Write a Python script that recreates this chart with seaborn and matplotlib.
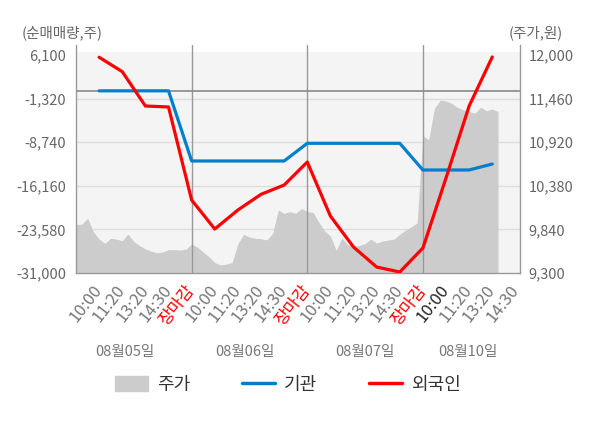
import pandas as pd
import matplotlib
matplotlib.use('Agg')
import matplotlib.pyplot as plt
import numpy as np
import seaborn as sns
from matplotlib.patches import Patch
from matplotlib.lines import Line2D

# 시간축: 하루 5칸 (10:00, 11:20, 13:20, 14:30, 장마감), 마지막 날은 14:30까지
x_labels = ['10:00', '11:20', '13:20', '14:30', '장마감'] * 3 + ['10:00', '11:20', '13:20', '14:30']
days = ['08월05일', '08월06일', '08월07일', '08월10일']

# 순매매량 (주)
x_flow = list(range(1, 19))
inst = [0, 0, 0, 0, -11940, -11940, -11940, -11940, -11940, -8930,
        -8930, -8930, -8930, -8930, -13470, -13470, -13470, -12450]
foreign = [5710, 3260, -2580, -2750, -18580, -23510, -20280, -17610, -16030, -12110,
           -21300, -26580, -29980, -30830, -26750, -14830, -2580, 5760]

# 주가 (원), 0.25칸 간격
price_step = 0.25
price = [9900, 9905, 9978, 9812, 9720, 9668, 9730, 9720, 9700, 9783,
         9690, 9640, 9600, 9570, 9550, 9560, 9590, 9590, 9585, 9594,
         9660, 9620, 9560, 9500, 9430, 9400, 9410, 9430, 9660, 9780,
         9745, 9730, 9725, 9710, 9790, 10080, 10039, 10060, 10040, 10100,
         10060, 10050, 9930, 9820, 9760, 9580, 9735, 9650, 9630, 9640,
         9665, 9720, 9670, 9695, 9709, 9720, 9780, 9830, 9874, 9920,
         11000, 10950, 11340, 11440, 11430, 11400, 11350, 11320, 11300, 11278,
         11355, 11310, 11330, 11300]

left_ticks = [6100, -1320, -8740, -16160, -23580, -31000]
right_ticks = [12000, 11460, 10920, 10380, 9840, 9300]

sns.set_style('white')
plt.rcParams['font.family'] = ['Noto Sans CJK KR', 'DejaVu Sans']

df_flow = pd.DataFrame({'x': x_flow, '기관': inst, '외국인': foreign})
df_price = pd.DataFrame({'x': np.arange(len(price)) * price_step, '주가': price})

fig = plt.figure(figsize=(6, 4.28), dpi=100)
ax2 = fig.add_axes([0.1267, 0.3621, 0.74, 0.5328])
ax = ax2.twinx()
ax2.yaxis.tick_right()
ax.yaxis.tick_left()
ax.set_zorder(ax2.get_zorder() + 1)
ax.patch.set_visible(False)
ax2.patch.set_visible(False)

# 주가 영역 (아래층)
ax2.axhspan(9300, 12037, color='#f4f4f4', zorder=0, lw=0)
for t in right_ticks[1:-1]:
    ax2.axhline(t, color='#dddddd', lw=1, zorder=0.5)
ax2.fill_between(df_price['x'], 9300, df_price['주가'], color='#cccccc', lw=0, zorder=1)
ax2.set_ylim(9300, 12124)
ax2.set_yticks(right_ticks)
ax2.set_yticklabels([f'{v:,}' for v in right_ticks])

# 순매매량 선 (위층)
for v in [5, 10, 15]:
    ax.axvline(v, color='#999999', lw=1, zorder=1)
ax.axhline(0, color='#888888', lw=1.2, zorder=1)
sns.lineplot(data=df_flow, x='x', y='기관', ax=ax, color='#0080cc', lw=2.3, zorder=3)
sns.lineplot(data=df_flow, x='x', y='외국인', ax=ax, color='#ff0000', lw=2.3, zorder=4)
ax.set_ylim(-31000, 7800)
ax.set_yticks(left_ticks)
ax.set_yticklabels([f'{v:,}' for v in left_ticks])
ax.set_xlabel('')
ax.set_ylabel('')

# x축 라벨은 아래층 축(ax2)에 표시됨
ax2.set_xlim(0, 19.2)
ax2.set_xticks(range(1, 20))
ax2.set_xticklabels(x_labels, rotation=52, ha='right', va='center', rotation_mode='anchor')
ax2.set_xticks([0, 5, 10, 15], minor=True)
ax2.tick_params(axis='x', which='major', length=0, pad=10, labelsize=12)
ax2.tick_params(axis='x', which='minor', length=4, color='#999999')
for i, lab in enumerate(ax2.get_xticklabels()):
    if x_labels[i] == '장마감':
        lab.set_color('red')
    elif i == 15:
        lab.set_color('#222222')
    else:
        lab.set_color('#777777')

ax.tick_params(axis='y', length=0, pad=7, labelsize=10.5, labelcolor='#666666')
ax2.tick_params(axis='y', length=0, pad=6, labelsize=10.5, labelcolor='#666666')

for a in (ax, ax2):
    for s in a.spines.values():
        s.set_visible(False)
for s in ['left', 'right', 'bottom']:
    ax.spines[s].set_visible(True)
    ax.spines[s].set_color('#999999')
    ax.spines[s].set_linewidth(1)

# 날짜 라벨
for xd, d in zip([2.1, 7.3, 12.5, 16.95], days):
    ax2.text(xd, -0.345, d, transform=ax2.get_xaxis_transform(), ha='center', va='center',
             fontsize=10.5, color='#777777')

fig.text(22 / 600, 1 - 33 / 428, '(순매매량,주)', fontsize=10.5, color='#666666', va='center')
fig.text(509 / 600, 1 - 33 / 428, '(주가,원)', fontsize=10.5, color='#666666', va='center')

handles = [Patch(color='#cccccc'), Line2D([], [], color='#0080cc', lw=2.5),
           Line2D([], [], color='#ff0000', lw=2.5)]
fig.legend(handles, ['주가', '기관', '외국인'], loc='center', bbox_to_anchor=(0.48, 0.1),
           ncol=3, frameon=False, fontsize=13, handlelength=1.8, handleheight=0.9,
           handletextpad=0.5, columnspacing=2.9, labelcolor='#333333')

fig.savefig('out.png', dpi=100)
